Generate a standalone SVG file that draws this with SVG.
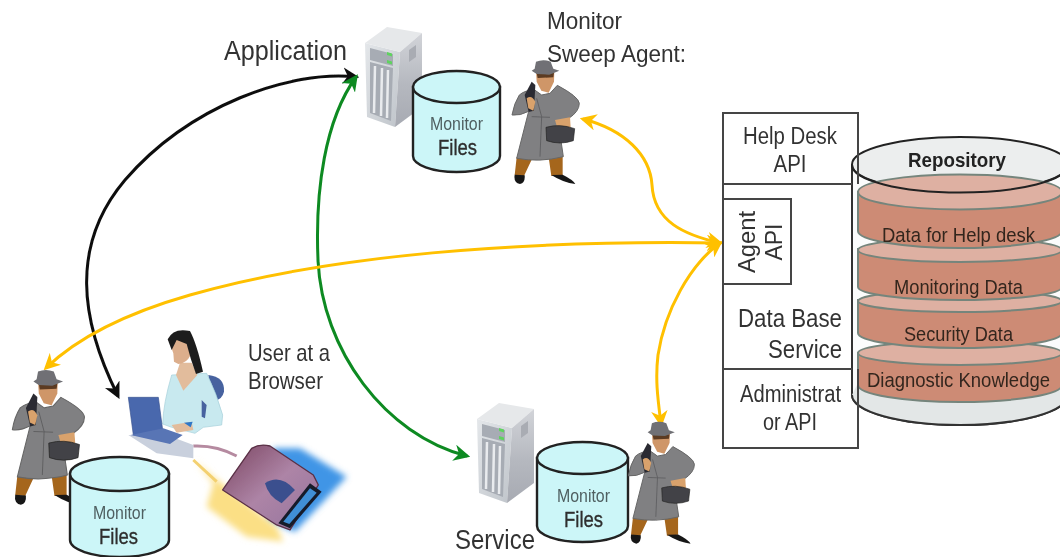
<svg xmlns="http://www.w3.org/2000/svg" xmlns:xlink="http://www.w3.org/1999/xlink" width="1060" height="557" viewBox="0 0 1060 557">
<style>
text{font-family:"Liberation Sans",Arial,sans-serif;fill:#333}
.lbl{font-size:24px}
.api{font-size:23px}
.rep{font-size:20.500px;fill:#33261f}
.mon{font-size:19px;fill:#4f5f61}
.fil{font-size:22px;fill:#2e2e2e;stroke:#2e2e2e;stroke-width:.35}
.box{fill:none;stroke:#444;stroke-width:2}
.cyl{fill:#ccf6f8;stroke:#222;stroke-width:2.400}
.disk{fill:#cd8b74;stroke:#75857c;stroke-width:2}
.disktop{fill:#deb0a2;stroke:#75857c;stroke-width:2}
.con{fill:none;stroke-width:3}
</style>
<defs>
<filter id="soft" x="-2%" y="-2%" width="104%" height="104%"><feGaussianBlur stdDeviation="0.65"/></filter>
<filter id="softer" x="-30%" y="-30%" width="160%" height="160%"><feGaussianBlur stdDeviation="9"/></filter>
<marker id="mk" viewBox="0 0 10 10" refX="8" refY="5" markerWidth="5.500" markerHeight="5.500" orient="auto-start-reverse"><path d="M0 0L10 5L0 10L3 5z" fill="#111"/></marker>
<marker id="mg" viewBox="0 0 10 10" refX="8" refY="5" markerWidth="5.500" markerHeight="5.500" orient="auto-start-reverse"><path d="M0 0L10 5L0 10L3 5z" fill="#0d8a20"/></marker>
<marker id="my" viewBox="0 0 10 10" refX="8" refY="5" markerWidth="5.500" markerHeight="5.500" orient="auto-start-reverse"><path d="M0 0L10 5L0 10L3 5z" fill="#ffc000"/></marker>
<linearGradient id="srvF" x1="0" y1="0" x2="1" y2="1"><stop offset="0" stop-color="#e4e7ea"/><stop offset="1" stop-color="#bfc4ca"/></linearGradient>
<linearGradient id="srvS" x1="0" y1="0" x2="0" y2="1"><stop offset="0" stop-color="#d2d4d9"/><stop offset=".55" stop-color="#b5b8bf"/><stop offset="1" stop-color="#a7aab2"/></linearGradient>
<linearGradient id="dev" x1="0" y1="0" x2="1" y2="1"><stop offset="0" stop-color="#7b4560"/><stop offset=".5" stop-color="#ad84a6"/><stop offset="1" stop-color="#94749e"/></linearGradient>
<g id="agent">
<path d="M50 352L44 405L72 408L97 355zM146 352L154 408L188 405L188 350z" fill="#a5661f"/>
<path d="M44 404Q40 428 60 432Q76 428 74 406zM154 405Q190 428 226 432Q220 420 188 404z" fill="#161616"/>
<path d="M104 150Q75 150 58 165Q42 190 36 225Q60 228 86 214L50 355Q120 368 190 350L180 282Q176 250 205 236Q238 215 238 190Q236 170 172 136L150 160L125 165z" fill="#808082" stroke="#666" stroke-width="3" stroke-linejoin="round"/>
<path d="M110 175L125 230L120 350M95 230L150 232" fill="none" stroke="#5c5c5e" stroke-width="2.500"/>
<path d="M74 165L95 125L106 135L102 212L86 216z" fill="#2a2a30"/>
<path d="M80 175Q95 163 106 185L100 212L85 205z" fill="#d9a26c"/>
<path d="M165 240L210 232L212 262L172 264z" fill="#d9a26c"/>
<path d="M108 92L163 92L162 125L146 158L124 152L110 125z" fill="#cf9668"/>
<path d="M110 98L162 98L160 112L113 114z" fill="#5b3a20"/>
<path d="M108 65Q130 56 152 65L160 86L178 92L148 104L110 102L95 92L104 86z" fill="#6f7074"/>
<path d="M138 262Q180 250 224 266L220 302Q180 316 140 302z" fill="#424246" stroke="#222" stroke-width="2"/>
</g>
<g id="server">
<path d="M365 43L400 52L395 127L367 117z" fill="url(#srvF)"/>
<path d="M365 43L387 27L422 33L400 52z" fill="#e6e8ea"/>
<path d="M400 52L422 33L422 107L395 127z" fill="url(#srvS)"/>
<path d="M409 50l7-5v12l-7 5z" fill="#a9acb3"/>
<path d="M370 48L393 54L393 66L370 60zM370 62L393 68L391 121L370 113z" fill="#a7acb4"/>
<path d="M375 66L374 113M382 68L381 116M388 70L387 118" stroke="#e9ebee" stroke-width="2.500" fill="none"/>
<path d="M387 52l5 1.500v3l-5-1.500zM387 60l5 1.500v3l-5-1.500z" fill="#5fd35f"/>
</g>
</defs>
<rect width="1060" height="557" fill="#fff"/>
<g filter="url(#soft)">
<g id="connectors">
<path class="con" stroke="#111" marker-start="url(#mk)" marker-end="url(#mk)" d="M356 77C290 70 190 105 125 180C70 245 80 320 118 396"/>
<path class="con" stroke="#0d8a20" marker-start="url(#mg)" marker-end="url(#mg)" d="M356 77C325 120 315 190 318 260C322 350 385 435 467 456"/>
<path class="con" stroke="#ffc000" marker-start="url(#my)" marker-end="url(#my)" d="M583 119C625 130 650 155 652 185C654 222 685 235 720 243"/>
<path class="con" stroke="#ffc000" marker-start="url(#my)" marker-end="url(#my)" d="M720 243C520 240 330 255 190 295C120 315 75 340 46 368"/>
<path class="con" stroke="#ffc000" marker-start="url(#my)" marker-end="url(#my)" d="M720 243C690 265 665 310 658 355C655 380 658 400 661 424"/>
</g>
<g id="app-server"><use xlink:href="#server"/></g>
<g id="app-files">
<path class="cyl" d="M413 87V156A43.500 16 0 0 0 500 156V87z"/><ellipse class="cyl" cx="456.500" cy="87" rx="43.500" ry="16"/>
<text class="mon" x="456.500" y="130" text-anchor="middle" textLength="53" lengthAdjust="spacingAndGlyphs">Monitor</text>
<text class="fil" x="457.500" y="155" text-anchor="middle" textLength="39" lengthAdjust="spacingAndGlyphs">Files</text>
</g>
<g id="application-label"><text x="224" y="60" font-size="27" textLength="123" lengthAdjust="spacingAndGlyphs">Application</text></g>
<g id="sweep-agent">
<use xlink:href="#agent" transform="translate(500 40) scale(.3333)"/>
<text class="lbl" x="547" y="29" textLength="75" lengthAdjust="spacingAndGlyphs">Monitor</text>
<text class="lbl" x="547" y="62" textLength="139" lengthAdjust="spacingAndGlyphs">Sweep Agent:</text>
</g>
<g id="service-server"><use xlink:href="#server" transform="translate(112 376)"/></g>
<g id="service-files">
<path class="cyl" d="M537 458V526A45.500 16 0 0 0 628 526V458z"/><ellipse class="cyl" cx="582.500" cy="458" rx="45.500" ry="16"/>
<text class="mon" x="583.500" y="502" text-anchor="middle" textLength="53" lengthAdjust="spacingAndGlyphs">Monitor</text>
<text class="fil" x="583.500" y="527" text-anchor="middle" textLength="39" lengthAdjust="spacingAndGlyphs">Files</text>
</g>
<g id="service-agent"><use xlink:href="#agent" transform="translate(616.600 402) scale(.327 .328)"/></g>
<g id="service-label"><text x="455" y="549" font-size="27" textLength="80" lengthAdjust="spacingAndGlyphs">Service</text></g>
<g id="browser-agent"><use xlink:href="#agent" transform="translate(-.5 348) scale(.357 .363)"/></g>
<g id="browser-files">
<path class="cyl" d="M70 474V540A49.500 17 0 0 0 169 540V474z"/><ellipse class="cyl" cx="119.500" cy="474" rx="49.500" ry="17"/>
<text class="mon" x="119.500" y="519" text-anchor="middle" textLength="53" lengthAdjust="spacingAndGlyphs">Monitor</text>
<text class="fil" x="118.500" y="544" text-anchor="middle" textLength="39" lengthAdjust="spacingAndGlyphs">Files</text>
</g>
<g id="user" transform="translate(0 320) scale(.3333)">
<path d="M820 385L900 385L1040 470L885 635L800 600z" fill="#3f95e6" filter="url(#softer)"/>
<path d="M585 420L640 470L665 490L830 620L850 665L740 650L620 560L640 490z" fill="#fbdf85" filter="url(#softer)"/>
<path d="M580 378Q650 375 710 408" fill="none" stroke="#b58aa0" stroke-width="9"/>
<path d="M580 420L650 485" fill="none" stroke="#f3d070" stroke-width="9"/>
<path d="M668 510L755 385Q780 370 810 378L940 465L955 495L870 630L830 615z" fill="url(#dev)" stroke="#5a3046" stroke-width="4" stroke-linejoin="round"/>
<path d="M795 490Q840 460 885 510L845 550Q805 530 795 490z" fill="#3a4f8e"/>
<path d="M835 610L930 490L965 515L870 625z" fill="#171a2a"/>
<path d="M850 605L930 505L950 518L868 612z" fill="#3f8fd6"/>
<path d="M385 345L470 400L580 415L580 375L500 345z" fill="#c9d0dd"/>
<path d="M625 165Q675 170 672 215Q665 245 635 240z" fill="#46629f"/>
<path d="M515 165L620 160Q650 220 668 285L665 315L610 322L585 340L515 322L488 312Q490 250 515 165z" fill="#c8e9ef" stroke="#a4cfda" stroke-width="2"/>
<path d="M605 240L620 255L615 295L605 290z" fill="#46629f"/>
<path d="M528 165L550 212L592 165L575 128L540 128z" fill="#e2bc9c"/>
<path d="M506 60L566 55L572 105Q560 130 535 132L522 125L520 100z" fill="#dcae8c"/>
<path d="M503 58Q520 22 570 33Q590 70 609 155L588 162Q572 120 560 72L530 60L515 90z" fill="#1f1f1f"/>
<path d="M385 232L475 232L490 345L400 345z" fill="#4a68ad" stroke="#36528f" stroke-width="2"/>
<path d="M392 345L490 325L548 345L510 372z" fill="#5874b5"/>
<path d="M515 315L575 305L580 330L530 338z" fill="#e2bc9c"/>
<path d="M552 308L578 305L572 322z" fill="#2f78c8"/>
</g>
<g id="user-label">
<text class="lbl" x="248" y="361" textLength="82" lengthAdjust="spacingAndGlyphs">User at a</text>
<text class="lbl" x="248" y="389" textLength="75" lengthAdjust="spacingAndGlyphs">Browser</text>
</g>
<g id="repository">
<path d="M852 165V395A108 30 0 0 0 1068 395V165z" fill="#fbfcfc" stroke="#333" stroke-width="2"/>
<path d="M852 395A108 30 0 0 0 1068 395L1062 385H857z" fill="#e3e7e7" stroke="none"/>
<path d="M852 395A108 30 0 0 0 1068 395" fill="none" stroke="#333" stroke-width="2"/>
<ellipse cx="960" cy="164.500" rx="108" ry="27.500" fill="#eceeee" stroke="#222" stroke-width="2"/>
<path class="disk" d="M858 353V385A102 17 0 0 0 1062 385V353z"/><ellipse class="disktop" cx="960" cy="353" rx="102" ry="12"/>
<path class="disk" d="M858 300V333A102 15 0 0 0 1062 333V300z"/><ellipse class="disktop" cx="960" cy="301" rx="102" ry="11"/>
<path class="disk" d="M858 249V287A102 13 0 0 0 1062 287V249z"/><ellipse class="disktop" cx="960" cy="250" rx="102" ry="12"/>
<path class="disk" d="M858 192V231A102 17 0 0 0 1062 231V192z"/><ellipse class="disktop" cx="960" cy="192" rx="102" ry="17.500"/>
<path d="M852 165A108 27.500 0 0 0 1068 165" fill="none" stroke="#222" stroke-width="2"/>
<text x="957" y="167" font-size="20" font-weight="bold" text-anchor="middle" textLength="98" lengthAdjust="spacingAndGlyphs" style="fill:#222">Repository</text>
<text class="rep" x="958.500" y="242" text-anchor="middle" textLength="153" lengthAdjust="spacingAndGlyphs">Data for Help desk</text>
<text class="rep" x="958.500" y="294" text-anchor="middle" textLength="129" lengthAdjust="spacingAndGlyphs">Monitoring Data</text>
<text class="rep" x="958.500" y="341" text-anchor="middle" textLength="109" lengthAdjust="spacingAndGlyphs">Security Data</text>
<text class="rep" x="958.500" y="387" text-anchor="middle" textLength="183" lengthAdjust="spacingAndGlyphs">Diagnostic Knowledge</text>
</g>
<g id="helpdesk-api">
<path class="box" d="M852 184H723V113H858V184"/>
<text class="api" x="790" y="144" text-anchor="middle" textLength="94" lengthAdjust="spacingAndGlyphs">Help Desk</text>
<text class="api" x="790" y="172" text-anchor="middle" textLength="33" lengthAdjust="spacingAndGlyphs">API</text>
</g>
<g id="database-service">
<path class="box" d="M723 184V369H852"/>
<text x="842" y="327" font-size="26" text-anchor="end" textLength="104" lengthAdjust="spacingAndGlyphs">Data Base</text>
<text x="842" y="358" font-size="26" text-anchor="end" textLength="74" lengthAdjust="spacingAndGlyphs">Service</text>
</g>
<g id="agent-api">
<rect class="box" x="723" y="199" width="68" height="85"/>
<text class="api" transform="translate(755 242) rotate(-90)" text-anchor="middle" textLength="62" lengthAdjust="spacingAndGlyphs">Agent</text>
<text class="api" transform="translate(782 242) rotate(-90)" text-anchor="middle" textLength="37" lengthAdjust="spacingAndGlyphs">API</text>
</g>
<g id="administrator-api">
<path class="box" d="M852 369H723V448H858V369"/>
<text class="api" x="790.500" y="402" text-anchor="middle" textLength="101" lengthAdjust="spacingAndGlyphs">Administrat</text>
<text class="api" x="790" y="430" text-anchor="middle" textLength="54" lengthAdjust="spacingAndGlyphs">or API</text>
</g>
</g>
</svg>
